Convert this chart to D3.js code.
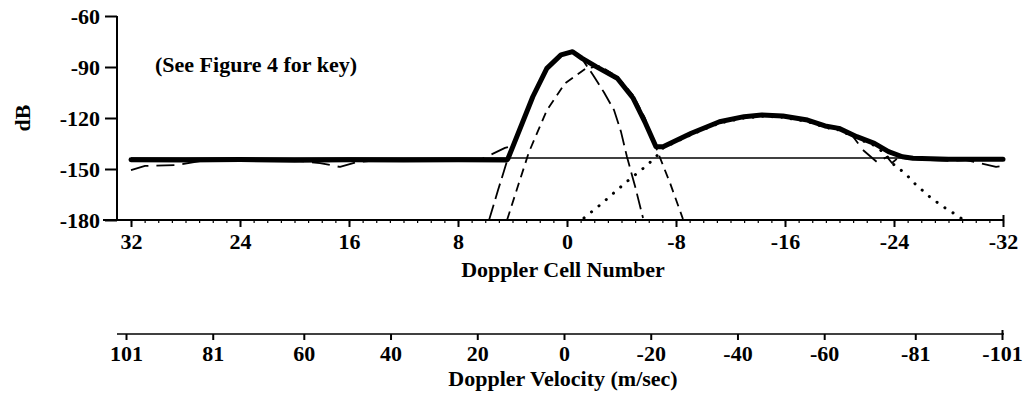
<!DOCTYPE html>
<html>
<head>
<meta charset="utf-8">
<script src="https://cdn.jsdelivr.net/npm/d3@7"></script>
<style>
  html, body { margin: 0; padding: 0; background: #fff; }
  svg text { font-family: "Liberation Serif", "Times New Roman", serif; font-weight: bold; fill: #000; }
</style>
</head>
<body>
<svg id="chart" width="1031" height="398"></svg>
<script>
// ---------- data (Doppler cell number vs dB) ----------
const cellTicks = [32, 24, 16, 8, 0, -8, -16, -24, -32];
const dbTicks = [-60, -90, -120, -150, -180];
const velocityTicks = [101, 81, 60, 40, 20, 0, -20, -40, -60, -81, -101];

// thick solid: measured total spectrum
const totalCells = [32, 28, 24, 20, 16, 12, 8, 4.4, 4.32, 2.51, 1.48, 0.44, -0.41, -1.11, -2.14, -3.69, -4.86, -5.76, -6.53, -7.05, -9.12, -11.19, -12.99, -14.29, -15.84, -17.65, -18.94, -19.96, -21.27, -22.56, -23.6, -24.62, -25.39, -28, -32];
const totalDb = [-144.6, -144.7, -144.4, -144.8, -144.6, -144.7, -144.5, -144.7, -143.7, -107.5, -90.8, -82.9, -81.0, -84.9, -89.8, -96.6, -108.4, -123.1, -136.9, -136.9, -129, -122.2, -119.2, -118.2, -118.8, -121.2, -124.7, -126.1, -131, -134.9, -139.8, -142.8, -143.7, -144.2, -144.2];

// thin solid: noise floor
const noiseCells = [32, -32];
const noiseDb = [-143.5, -143.5];

// long dash: clutter component centred at cell 0
const clutterCells = [5.72, 5.06, 4.33, 2.5, 1.47, 0.44, -0.44, -1.17, -1.91, -2.72, -3.45, -3.96, -4.4, -4.99, -5.58];
const clutterDb = [-180, -162.4, -143.5, -107.6, -91, -83.2, -81.5, -86, -94.7, -105, -115.3, -128, -142.8, -160, -178.8];

// short dash: second narrow component
const narrowCells = [4.4, 3.6, 2.79, 1.47, 0.15, -1.39, -2.42, -3.67, -4.84, -5.72, -6.61, -7.56, -8.51];
const narrowDb = [-180, -160, -140, -115.3, -99.6, -90.8, -89.5, -95.5, -106.5, -120, -139, -158.2, -179.4];

// dotted: broad weather component
const weatherCells = [-1.25, -2.42, -3.52, -4.62, -5.72, -6.53, -7.05, -9.1, -11.16, -12.99, -14.31, -15.85, -17.61, -18.94, -19.96, -21.28, -22.53, -23.27, -24.07, -24.81, -25.39, -26.06, -26.64, -27.23, -27.96, -28.62, -28.99];
const weatherDb = [-178.8, -171.2, -163.5, -155.9, -148.8, -142.9, -137.6, -129.8, -123, -120, -119, -119.6, -122, -125.5, -127, -132, -136, -140.5, -148.2, -152.4, -157.6, -162.4, -166.5, -170, -174.1, -177.1, -179.4];

// long dash: model sum (mostly under the total)
const modelCells = [32, 30.97, 28.55, 26.94, 19.6, 18.13, 16.66, 15.41, 13.72, 6.39, 5.8, 4.55, 4.04, 2.5, 1.47, 0.44, -0.44, -1.1, -2.13, -3.67, -4.84, -5.72, -6.53, -7.05, -9.1, -11.16, -12.99, -14.31, -15.85, -17.61, -18.94, -19.96, -20.77, -21.72, -22.75, -23.49, -23.85, -24.29, -26.64, -28.11, -29.21, -30.31, -31.49, -32];
const modelDb = [-150.6, -148.2, -147.6, -145.3, -145.3, -146.5, -148.8, -145.9, -144.7, -144.7, -142.4, -137.6, -136.5, -107.5, -90.8, -82.9, -81, -84.9, -89.8, -96.6, -108.4, -123.1, -136.9, -136.9, -129, -122.2, -119.2, -118.2, -118.8, -121.2, -124.7, -126.1, -128.5, -138.8, -145.9, -142.9, -146.5, -143.5, -144.7, -145.3, -144.7, -146.5, -148.8, -148.2];

// ---------- drawing ----------
const svg = d3.select("#chart");
const x = d3.scaleLinear().domain([32, -32]).range([131, 1003]);
const y = d3.scaleLinear().domain([-60, -180]).range([16, 220]);
const xv = d3.scaleLinear().domain([101, -101]).range([126, 1002]);
const fmt = d => String(d);

const zip = (c, v) => c.map((d, i) => [d, v[i]]);
const line = d3.line().x(d => x(d[0])).y(d => y(d[1]));

// clip to plot region
svg.append("clipPath").attr("id", "plot")
  .append("rect").attr("x", 117).attr("y", 0).attr("width", 900).attr("height", 220);

const g = svg.append("g").attr("clip-path", "url(#plot)");
function draw(c, v, w, dash, cap) {
  g.append("path").datum(zip(c, v)).attr("d", line)
    .attr("fill", "none").attr("stroke", "#000").attr("stroke-width", w)
    .attr("stroke-dasharray", dash).attr("stroke-linecap", cap || "butt")
    .attr("stroke-linejoin", "round");
}
draw(noiseCells, noiseDb, 1.5, null);
draw(modelCells, modelDb, 1.8, "18,8");
draw(clutterCells, clutterDb, 1.8, "16,6");
draw(narrowCells, narrowDb, 1.8, "9,6");
draw(weatherCells, weatherDb, 3, "0.1,9.5", "round");
draw(totalCells, totalDb, 5, null, "round");

// y axis
const yAxis = svg.append("g").attr("transform", "translate(117,0)")
  .call(d3.axisLeft(y).tickValues(dbTicks).tickSize(12).tickPadding(5).tickFormat(fmt));
// upper x axis (cell numbers)
const xMinor = svg.append("g").attr("transform", "translate(0,220)")
  .call(d3.axisBottom(x).tickValues(d3.range(-32, 33)).tickSize(3).tickFormat(""));
const xAxis = svg.append("g").attr("transform", "translate(0,220)")
  .call(d3.axisBottom(x).tickValues(cellTicks).tickSize(7).tickPadding(6).tickFormat(fmt));
// lower velocity axis
const vAxis = svg.append("g").attr("transform", "translate(0,334)")
  .call(d3.axisBottom(xv).tickValues(velocityTicks).tickSize(6).tickPadding(5).tickFormat(fmt));

[yAxis, xMinor, xAxis, vAxis].forEach(a => {
  a.selectAll(".domain").attr("stroke", "#000").attr("stroke-width", 2);
  a.selectAll(".tick line").attr("stroke", "#000").attr("stroke-width", 2);
  a.selectAll("text").attr("font-size", 22).attr("font-family", "Liberation Serif, serif").attr("font-weight", "bold");
});
xMinor.selectAll(".tick line").attr("stroke-width", 1.2);
xMinor.select(".domain").attr("d", "M103,0H1003");
xAxis.select(".domain").remove();
// end caps rising above the axis at the far right
xAxis.selectAll(".tick").filter(d => d === -32).select("line").attr("y1", -5);
vAxis.select(".domain").attr("d", "M117,0H1004").attr("stroke-width", 1.5);
vAxis.selectAll(".tick").filter(d => d === -101).select("line").attr("y1", -4);
yAxis.select(".domain").attr("d", "M0,16V220");

// titles
svg.append("text").attr("x", 563).attr("y", 277).attr("text-anchor", "middle")
  .attr("font-size", 22).text("Doppler Cell Number");
svg.append("text").attr("x", 563).attr("y", 386).attr("text-anchor", "middle")
  .attr("font-size", 22).text("Doppler Velocity (m/sec)");
svg.append("text").attr("transform", "translate(30,118) rotate(-90)").attr("text-anchor", "middle")
  .attr("font-size", 22).text("dB");
svg.append("text").attr("x", 155).attr("y", 72)
  .attr("font-size", 22).text("(See Figure 4 for key)");
</script>
</body>
</html>
